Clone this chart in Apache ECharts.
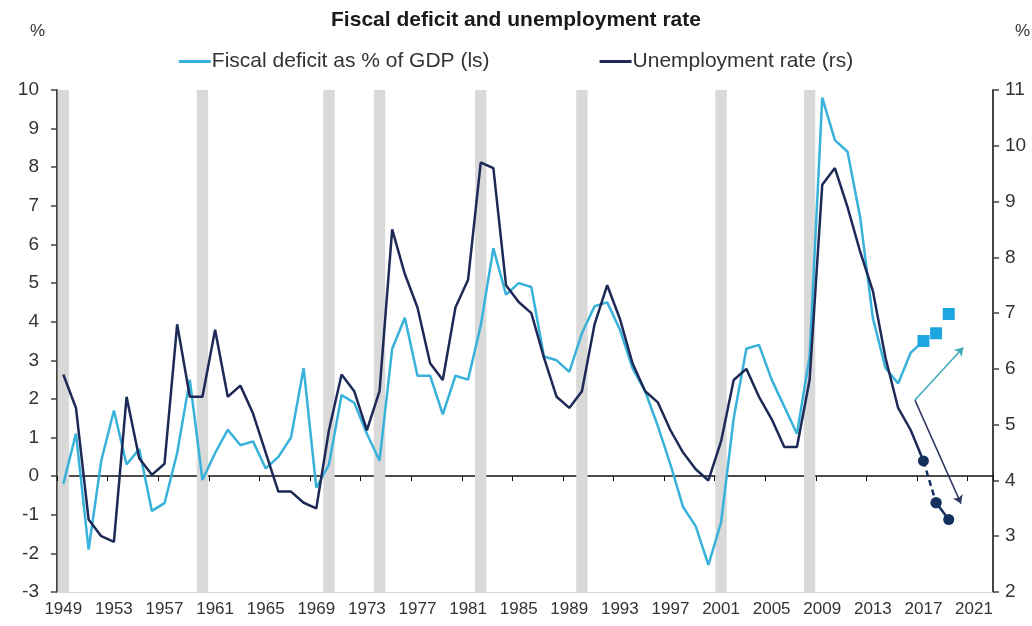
<!DOCTYPE html>
<html>
<head>
<meta charset="utf-8">
<style>
  html, body { margin: 0; padding: 0; background: #fff; }
  #chart { width: 1032px; height: 626px; }
</style>
<script src="https://cdn.jsdelivr.net/npm/echarts@6/dist/echarts.min.js"></script>
</head>
<body>
<div id="chart"></div>
<script>
// category years on the x axis (one slot per year)
var years = [1949, 1950, 1951, 1952, 1953, 1954, 1955, 1956, 1957, 1958, 1959,
  1960, 1961, 1962, 1963, 1964, 1965, 1966, 1967, 1968, 1969,
  1970, 1971, 1972, 1973, 1974, 1975, 1976, 1977, 1978, 1979,
  1980, 1981, 1982, 1983, 1984, 1985, 1986, 1987, 1988, 1989,
  1990, 1991, 1992, 1993, 1994, 1995, 1996, 1997, 1998, 1999,
  2000, 2001, 2002, 2003, 2004, 2005, 2006, 2007, 2008, 2009,
  2010, 2011, 2012, 2013, 2014, 2015, 2016, 2017, 2018, 2019,
  2020, 2021, 2022];

// fiscal deficit, % of GDP (left scale), 1949-2017
var fiscalDeficit = [-0.2, 1.1, -1.9, 0.4, 1.7, 0.3, 0.7, -0.9, -0.7, 0.6, 2.5,
  -0.1, 0.6, 1.2, 0.8, 0.9, 0.2, 0.5, 1.0, 2.8, -0.3,
  0.3, 2.1, 1.9, 1.1, 0.4, 3.3, 4.1, 2.6, 2.6, 1.6,
  2.6, 2.5, 3.9, 5.9, 4.7, 5.0, 4.9, 3.1, 3.0, 2.7,
  3.7, 4.4, 4.5, 3.8, 2.8, 2.2, 1.3, 0.3, -0.8, -1.3,
  -2.3, -1.2, 1.5, 3.3, 3.4, 2.5, 1.8, 1.1, 3.1, 9.8,
  8.7, 8.4, 6.7, 4.1, 2.8, 2.4, 3.2, 3.5];

// unemployment rate, % (right scale), 1949-2017
var unemployment = [5.9, 5.3, 3.3, 3.0, 2.9, 5.5, 4.4, 4.1, 4.3, 6.8, 5.5,
  5.5, 6.7, 5.5, 5.7, 5.2, 4.5, 3.8, 3.8, 3.6, 3.5,
  4.9, 5.9, 5.6, 4.9, 5.6, 8.5, 7.7, 7.1, 6.1, 5.8,
  7.1, 7.6, 9.7, 9.6, 7.5, 7.2, 7.0, 6.2, 5.5, 5.3,
  5.6, 6.8, 7.5, 6.9, 6.1, 5.6, 5.4, 4.9, 4.5, 4.2,
  4.0, 4.7, 5.8, 6.0, 5.5, 5.1, 4.6, 4.6, 5.8, 9.3,
  9.6, 8.9, 8.1, 7.4, 6.2, 5.3, 4.9, 4.35];

// projections
var fiscalProjYears = [2017, 2018, 2019];
var fiscalProj = [3.5, 3.7, 4.2];
var unempProjYears = [2017, 2018, 2019];
var unempProj = [4.35, 3.6, 3.3];

// recession years (grey bands)
var recessionYears = [1949, 1960, 1970, 1974, 1982, 1990, 2001, 2008];

// trend arrows in data space: [year, left-scale value]
var arrowStart = [2016.33, 1.97];
var fiscalArrowEnd = [2020.15, 3.33];
var unempArrowEnd = [2019.97, -0.71];

var cats = years.map(String);
var recessionData = years.map(function (y) {
  return recessionYears.indexOf(y) >= 0 ? 1 : '-';
});
function pairs(xs, vs) {
  return xs.map(function (x, i) { return [String(x), vs[i]]; });
}
var fiscalProjData = pairs(fiscalProjYears, fiscalProj);
var unempProjData = pairs(unempProjYears, unempProj);

var FONT = "'Liberation Sans', Arial, sans-serif";
var chart = echarts.init(document.getElementById('chart'), null, { renderer: 'canvas' });

var option = {
  animation: false,
  textStyle: { fontFamily: FONT },
  title: {
    text: 'Fiscal deficit and unemployment rate',
    left: 'center',
    top: 5,
    textStyle: { fontSize: 21, fontWeight: 'bold', color: '#1a1a1a', fontFamily: FONT }
  },
  legend: {
    top: 46,
    left: 'center',
    itemGap: 110,
    itemWidth: 32,
    itemHeight: 3,
    icon: 'rect',
    data: ['Fiscal deficit as % of GDP (ls)', 'Unemployment rate (rs)'],
    textStyle: { fontSize: 21, color: '#333', fontFamily: FONT, padding: [0, 0, 0, -4] }
  },
  grid: {
    left: 57,
    right: 39,
    top: 90,
    bottom: 34,
    outerBoundsMode: 'none'
  },
  xAxis: [
    {
      type: 'category',
      data: cats,
      position: 'bottom',
      boundaryGap: true,
      axisLine: { onZero: false, lineStyle: { color: '#d9d9d9', width: 1 } },
      axisTick: { show: false },
      axisLabel: { interval: 3, color: '#333', fontSize: 17, margin: 9 },
      splitLine: { show: false }
    },
    {
      type: 'category',
      data: cats,
      position: 'bottom',
      boundaryGap: true,
      axisLine: { onZero: true, onZeroAxisIndex: 0, lineStyle: { color: '#111', width: 1.5 } },
      axisTick: { show: true, interval: 3, length: 5, inside: false, lineStyle: { color: '#111' } },
      axisLabel: { show: false },
      splitLine: { show: false }
    },
    {
      type: 'value',
      min: 1948.5,
      max: 2022.5,
      show: false
    }
  ],
  yAxis: [
    {
      type: 'value',
      position: 'left',
      min: -3,
      max: 10,
      interval: 1,
      name: '%',
      nameLocation: 'end',
      nameGap: 50,
      nameTextStyle: { fontSize: 17, color: '#333', align: 'right', padding: [0, 12, 0, 0] },
      axisLine: { show: true, lineStyle: { color: '#444', width: 2 } },
      axisTick: { show: true, length: 6, lineStyle: { color: '#444', width: 1.5 } },
      axisLabel: { color: '#333', fontSize: 19, margin: 18 },
      splitLine: { show: false }
    },
    {
      type: 'value',
      position: 'right',
      min: 2,
      max: 11,
      interval: 1,
      name: '%',
      nameLocation: 'end',
      nameGap: 50,
      nameTextStyle: { fontSize: 17, color: '#333', align: 'left', padding: [0, 0, 0, 22] },
      axisLine: { show: true, lineStyle: { color: '#444', width: 2 } },
      axisTick: { show: true, length: 6, lineStyle: { color: '#444', width: 1.5 } },
      axisLabel: { color: '#333', fontSize: 19, margin: 12 },
      splitLine: { show: false }
    },
    {
      type: 'value',
      min: 0,
      max: 1,
      show: false
    }
  ],
  series: [
    {
      name: 'recession',
      type: 'bar',
      xAxisIndex: 0,
      yAxisIndex: 2,
      data: recessionData,
      barWidth: '90%',
      itemStyle: { color: '#d9d9d9' },
      silent: true,
      z: 0
    },
    {
      name: 'Fiscal deficit as % of GDP (ls)',
      type: 'line',
      xAxisIndex: 0,
      yAxisIndex: 0,
      data: fiscalDeficit,
      symbol: 'none',
      color: '#38b2da',
      lineStyle: { width: 2.5, color: '#38b2da' },
      z: 3
    },
    {
      name: 'Unemployment rate (rs)',
      type: 'line',
      xAxisIndex: 0,
      yAxisIndex: 1,
      data: unemployment,
      symbol: 'none',
      color: '#1d2a58',
      lineStyle: { width: 2.5, color: '#1d2a58' },
      z: 4
    },
    {
      name: 'fiscal projection',
      type: 'scatter',
      xAxisIndex: 0,
      yAxisIndex: 0,
      data: fiscalProjData,
      symbol: 'rect',
      symbolSize: 12,
      itemStyle: { color: '#1ea6e0', opacity: 1 },
      z: 5
    },
    {
      name: 'unemployment projection a',
      type: 'line',
      xAxisIndex: 0,
      yAxisIndex: 1,
      data: unempProjData.slice(0, 2),
      symbol: 'circle',
      symbolSize: 11,
      showSymbol: true,
      showAllSymbol: true,
      itemStyle: { color: '#13305f' },
      lineStyle: { width: 2.5, color: '#13305f', type: [6, 4] },
      z: 5
    },
    {
      name: 'unemployment projection b',
      type: 'line',
      xAxisIndex: 0,
      yAxisIndex: 1,
      data: unempProjData.slice(1),
      symbol: 'circle',
      symbolSize: 11,
      showSymbol: true,
      showAllSymbol: true,
      itemStyle: { color: '#13305f' },
      lineStyle: { width: 2.5, color: '#13305f' },
      z: 5
    },
    {
      name: 'arrows',
      type: 'lines',
      coordinateSystem: 'cartesian2d',
      xAxisIndex: 2,
      yAxisIndex: 0,
      symbol: ['none', 'arrow'],
      symbolSize: 8,
      silent: true,
      z: 6,
      data: [
        { coords: [arrowStart, fiscalArrowEnd], lineStyle: { color: '#3aa9b8', width: 1.5, opacity: 1 } },
        { coords: [arrowStart, unempArrowEnd], lineStyle: { color: '#2b3560', width: 1.5, opacity: 1 } }
      ]
    }
  ]
};
chart.setOption(option);
</script>
</body>
</html>
